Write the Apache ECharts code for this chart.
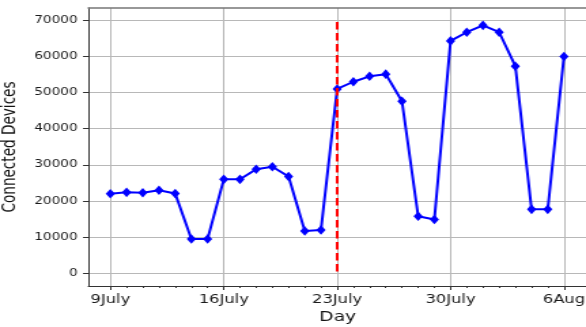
<!DOCTYPE html>
<html>
<head>
<meta charset="utf-8">
<script src="https://cdn.jsdelivr.net/npm/echarts@6/dist/echarts.min.js"></script>
<style>
  html, body { margin: 0; padding: 0; background: #fff; overflow: hidden; }
  /* the figure is laid out on a narrower canvas and widened to the page */
  #chart { width: 431px; height: 327px; transform: scaleX(1.35963); transform-origin: 0 0; }
</style>
</head>
<body>
<div id="chart"></div>
<script>
// Connected devices per day, starting 9 July
const devices = [22000, 22400, 22300, 23000, 22100, 9500, 9500,
                 26000, 26000, 28800, 29500, 26800, 11700, 12000,
                 51000, 53000, 54500, 55100, 47600, 15800, 14900,
                 64300, 66700, 68600, 66700, 57300, 17700, 17700,
                 60000];
const tickDays = [0, 7, 14, 21, 28];
const tickLabels = ['9July', '16July', '23July', '30July', '6Aug'];
const yTicks = [0, 10000, 20000, 30000, 40000, 50000, 60000, 70000];
const markerDay = 14;          // 23 July
const markerTop = 69500;

const points = devices.map((v, i) => [i, v]);
const minorDays = devices.map((_, i) => i).filter(d => tickDays.indexOf(d) < 0);

const xMin = -1.358, xMax = 29.42;

const chart = echarts.init(document.getElementById('chart'), null, { renderer: 'canvas' });
chart.setOption({
  animation: false,
  backgroundColor: '#fff',
  grid: { left: 65, right: -0.7, top: 8, bottom: 41, show: false, outerBoundsMode: 'none', containLabel: false },
  xAxis: [{
    type: 'value', min: xMin, max: xMax,
    position: 'bottom',
    name: 'Day', nameLocation: 'middle', nameGap: 22,
    nameTextStyle: { fontFamily: 'DejaVu Sans', fontSize: 13.7, color: '#111' },
    axisLine: { show: true, onZero: false, lineStyle: { color: '#333', width: 1 } },
    axisTick: { show: true, customValues: tickDays, length: 4, lineStyle: { color: '#333' } },
    axisLabel: { customValues: tickDays, margin: 8,
      fontFamily: 'DejaVu Sans', fontSize: 12, color: '#1a1a1a',
      formatter: v => tickLabels[tickDays.indexOf(v)] },
    splitLine: { show: true, lineStyle: { color: '#b8b8b8', width: 1 } }
  }, {
    type: 'value', min: xMin, max: xMax,
    position: 'bottom',
    axisLine: { show: false, onZero: false },
    axisTick: { show: true, customValues: minorDays, length: 2, lineStyle: { color: '#333' } },
    axisLabel: { show: false },
    splitLine: { show: false }
  }, {
    type: 'value', min: xMin, max: xMax,
    position: 'top',
    axisLine: { show: true, onZero: false, lineStyle: { color: '#777', width: 1.5 } },
    axisTick: { show: false }, axisLabel: { show: false }, splitLine: { show: false }
  }],
  yAxis: {
    type: 'value', min: -3510, max: 73400,
    name: 'Connected Devices', nameLocation: 'middle', nameGap: 45, nameRotate: 90,
    nameTextStyle: { fontFamily: 'DejaVu Sans', fontSize: 13.6, color: '#111' },
    axisLine: { show: true, onZero: false, lineStyle: { color: '#333', width: 1 } },
    axisTick: { show: true, customValues: yTicks, length: 4, lineStyle: { color: '#333' } },
    axisLabel: { customValues: yTicks, margin: 8,
      fontFamily: 'DejaVu Sans', fontSize: 10, color: '#1a1a1a',
      formatter: v => String(v) },
    splitLine: { show: true, lineStyle: { color: '#b8b8b8', width: 1 } }
  },
  series: [{
    type: 'line',
    xAxisIndex: 0,
    data: points,
    symbol: 'diamond',
    symbolSize: [6.8, 9.6],
    showSymbol: true,
    itemStyle: { color: '#0000ff' },
    lineStyle: { color: '#0000ff', width: 2 },
    z: 3,
    markLine: {
      silent: true,
      symbol: ['none', 'none'],
      label: { show: false },
      z: 5,
      lineStyle: { color: '#ff0000', width: 2, type: [7.4, 3.6], opacity: 1 },
      data: [[{ coord: [markerDay, markerTop] }, { coord: [markerDay, 0] }]]
    }
  }]
});
</script>
</body>
</html>
